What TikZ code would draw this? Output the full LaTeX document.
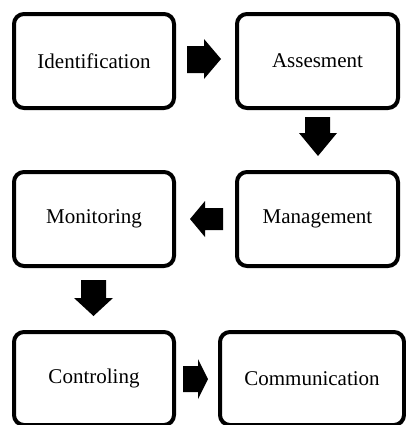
\documentclass[tikz,border=0pt]{standalone}
\usepackage{fontspec}
\setmainfont{Liberation Serif}
\begin{document}
\begin{tikzpicture}[x=0.75pt,y=-0.75pt,
  stepbox/.style={draw=black, line width=3pt, rounded corners=7.5pt, fill=white,
    font=\fontsize{15.75}{18}\selectfont, inner sep=0pt, anchor=center},
  blockarrow/.style={fill=black, draw=none}]
\useasboundingbox (0,0) rectangle (405,425);
\node[stepbox, minimum width=160*0.75pt, minimum height=94*0.75pt] (ident) at (94,61) {Identification};
\node[stepbox, minimum width=161*0.75pt, minimum height=94*0.75pt] (asses) at (317.5,61) {Assesment};
\node[stepbox, minimum width=160*0.75pt, minimum height=94*0.75pt] (monit) at (94,219) {Monitoring};
\node[stepbox, minimum width=161*0.75pt, minimum height=94*0.75pt] (manag) at (317.5,219) {Management};
\node[stepbox, minimum width=160*0.75pt, minimum height=93*0.75pt] (contr) at (94,378.5) {Controling};
\node[stepbox, minimum width=184*0.75pt, minimum height=93*0.75pt] (commu) at (312,378.5) {Communication};
% block arrows
\fill[blockarrow] (187,46) -- (204,46) -- (204,39) -- (221,59) -- (204,79) -- (204,73) -- (187,73) -- cycle;
\fill[blockarrow] (305,117) -- (330,117) -- (330,133) -- (337,133) -- (318,156) -- (299,133) -- (305,133) -- cycle;
\fill[blockarrow] (223,208) -- (205,208) -- (205,201) -- (190,219) -- (205,237) -- (205,230) -- (223,230) -- cycle;
\fill[blockarrow] (81,280) -- (106,280) -- (106,298) -- (113,298) -- (93.5,316) -- (74,298) -- (81,298) -- cycle;
\fill[blockarrow] (183,366) -- (198,366) -- (198,359) -- (208,379) -- (198,399) -- (198,392) -- (183,392) -- cycle;
\end{tikzpicture}
\end{document}
